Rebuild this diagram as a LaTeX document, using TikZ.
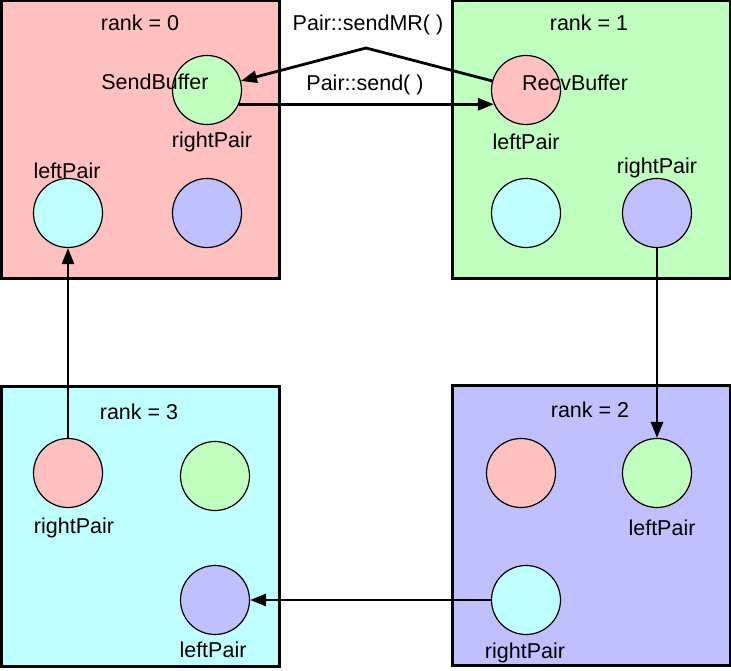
\documentclass[tikz,border=0pt]{standalone}
\usepackage{fontspec}
\setmainfont{Liberation Sans}
\usetikzlibrary{arrows.meta,positioning}

\definecolor{rankRed}{RGB}{255,192,192}
\definecolor{rankGreen}{RGB}{192,255,192}
\definecolor{rankCyan}{RGB}{192,255,255}
\definecolor{rankBlue}{RGB}{192,192,255}

\def\rankBoxSize{278}
\def\pairDiameter{69}
\def\rankLabelFont{\fontsize{21.5}{26}\selectfont}

\tikzset{
    rank box/.style = {draw, line width = 3pt, inner sep = 0pt,
        minimum width = \rankBoxSize pt, minimum height = \rankBoxSize pt},
    pair/.style = {circle, draw, line width = 1.2pt, inner sep = 0pt,
        minimum size = \pairDiameter pt},
    lbl/.style = {font = \rankLabelFont, inner sep = 0pt},
    msg/.style = {line width = 2.8pt, -{Triangle[length = 16pt, width = 12pt]}},
}

\begin{document}
\begin{tikzpicture}[x = 1pt, y = 1pt]
            \useasboundingbox (0,0) rectangle (731,670);
            %% ranks
            \node [rank box, fill = rankRed] (rank0) at (140,530) {};
            \node [rank box, fill = rankGreen] (rank1) at (591,530) {};
            \node [rank box, fill = rankCyan, minimum height = 279pt] (rank3) at (140,143.5) {};
            \node [rank box, fill = rankBlue, minimum height = 279pt] (rank2) at (591,144.5) {};
            %% pairs of rank 0
            \node [pair, fill = rankGreen] (r0right) at (207,580) {};
            \node [pair, fill = rankCyan] (r0left) at (68,457) {};
            \node [pair, fill = rankBlue] (r0other) at (207,457) {};
            %% pairs of rank 1
            \node [pair, fill = rankRed] (r1left) at (526,580) {};
            \node [pair, fill = rankCyan] (r1other) at (526,457) {};
            \node [pair, fill = rankBlue] (r1right) at (657,457) {};
            %% pairs of rank 3
            \node [pair, fill = rankRed] (r3right) at (68,197) {};
            \node [pair, fill = rankGreen] (r3other) at (215,194) {};
            \node [pair, fill = rankBlue] (r3left) at (215,70) {};
            %% pairs of rank 2
            \node [pair, fill = rankRed] (r2other) at (521,197) {};
            \node [pair, fill = rankGreen] (r2left) at (657,197) {};
            \node [pair, fill = rankCyan] (r2right) at (526,70) {};
            %% labels
            \node [lbl] (r0rank) at (140,647) {rank = 0};
            \node [lbl] (r1rank) at (589,647) {rank = 1};
            \node [lbl] (r3rank) at (139,258) {rank = 3};
            \node [lbl] (r2rank) at (590,260) {rank = 2};
            \node [lbl] (sendBuf) at (155,588) {SendBuffer};
            \node [lbl] (recvBuf) at (575,587) {RecvBuffer};
            \node [lbl] (r0rightLbl) at (212,528) {rightPair};
            \node [lbl] (r0leftLbl) at (67,499) {leftPair};
            \node [lbl] (r1leftLbl) at (526,528) {leftPair};
            \node [lbl] (r1rightLbl) at (657,502) {rightPair};
            \node [lbl] (r3rightLbl) at (74,142) {rightPair};
            \node [lbl] (r3leftLbl) at (213,20) {leftPair};
            \node [lbl] (r2leftLbl) at (662,142) {leftPair};
            \node [lbl] (r2rightLbl) at (525,17) {rightPair};
            \node [lbl] (sendMRLbl) at (368,645) {Pair::sendMR( )};
            \node [lbl] (sendLbl) at (365,585) {Pair::send( )};
            %% messages
            \coordinate (mrBend) at (366,622);
            \draw [msg] (r1left.165) -- (mrBend) -- (r0right.15);
            \draw [msg] (r0right.-24) -- (r1left.204);
            \draw [msg] (r1right.south) -- (r2left.north);
            \draw [msg] (r2right.west) -- (r3left.east);
            \draw [msg] (r3right.north) -- (r0left.south);
        \end{tikzpicture}
\end{document}
